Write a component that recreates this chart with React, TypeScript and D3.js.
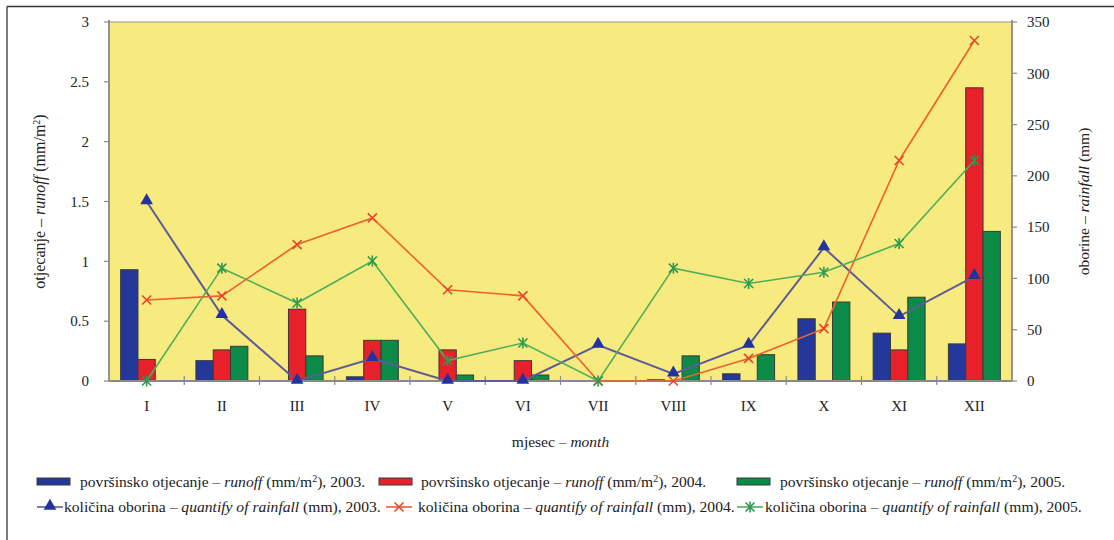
import React from "react";
import * as d3 from "d3";

const months = ["I", "II", "III", "IV", "V", "VI", "VII", "VIII", "IX", "X", "XI", "XII"];
const runoff2003 = [0.93, 0.17, 0, 0.035, 0, 0, 0, 0.01, 0.06, 0.52, 0.4, 0.31];
const runoff2004 = [0.18, 0.26, 0.6, 0.34, 0.26, 0.17, 0, 0, 0, 0, 0.26, 2.45];
const runoff2005 = [0, 0.29, 0.21, 0.34, 0.05, 0.05, 0, 0.21, 0.22, 0.66, 0.7, 1.25];
const rain2003 = [175, 64, 0, 22, 0, 0, 35, 7, 35, 130, 63, 102];
const rain2004 = [79, 83, 133, 159, 89, 83, 0, 0, 22, 51, 215, 332];
const rain2005 = [0, 110, 76, 117, 20, 37, 0, 110, 95, 106, 134, 215];
const leftTicks = [0, 0.5, 1, 1.5, 2, 2.5, 3];
const rightTicks = [0, 50, 100, 150, 200, 250, 300, 350];
const years = ["2003.", "2004.", "2005."];

const BAR_COLORS = ["#24379a", "#e8202a", "#0c8a48"];
const LINE_COLORS = ["#5e5b96", "#f0602e", "#4fae5c"];
const MARK_COLORS = ["#2233a0", "#e8452a", "#2a9a50"];
const FONT = "Liberation Serif, DejaVu Serif, serif";

const L = 109, R = 1012, T = 22, B = 381;

function Marker({ kind, x, y }: { kind: number; x: number; y: number }) {
  if (kind === 0) {
    const d = d3.symbol(d3.symbolTriangle, 70)() as string;
    return <path d={d} transform={`translate(${x},${y - 1})`} fill={MARK_COLORS[0]} />;
  }
  const s = 4.5;
  return (
    <g stroke={MARK_COLORS[kind]} strokeWidth={1.6}>
      <line x1={x - s} y1={y - s} x2={x + s} y2={y + s} />
      <line x1={x - s} y1={y + s} x2={x + s} y2={y - s} />
      {kind === 2 && <line x1={x} y1={y - s - 1} x2={x} y2={y + s + 1} />}
    </g>
  );
}

export default function App() {
  const x = d3.scaleBand<string>().domain(months).range([L, R]).padding(0);
  const bw = x.bandwidth();
  const groupW = bw * 0.69;
  const xs = d3.scaleBand<number>().domain([0, 1, 2]).range([0, groupW]).padding(0);
  const yL = d3.scaleLinear().domain([0, 3]).range([B, T]);
  const yR = d3.scaleLinear().domain([0, 350]).range([B, T]);
  const runoffs = [runoff2003, runoff2004, runoff2005];
  const rains = [rain2003, rain2004, rain2005];
  const cx = (m: string) => (x(m) as number) + bw / 2;

  const legendRow1X = [37, 379, 737];
  const legendRow1Text = [80, 421, 780];
  const legendRow2X = [37, 386, 737];
  const legendRow2Text = [64, 418, 765];
  const LF = 15.6;

  return (
    <svg width={1114} height={540} style={{ position: "absolute", left: 0, top: 0, display: "block", fontFamily: FONT }}>
      <rect x={0} y={0} width={1114} height={540} fill="#ffffff" />
      <line x1={7} y1={6.5} x2={1114} y2={6.5} stroke="#333" strokeWidth={1.3} />
      <line x1={7} y1={6.5} x2={7} y2={540} stroke="#333" strokeWidth={1.3} />

      {/* plot area */}
      <rect x={L} y={T} width={R - L} height={B - T} fill="#f7ea7e" />
      <line x1={L} y1={T} x2={R} y2={T} stroke="#9a9a8a" strokeWidth={1.2} />

      {/* bars */}
      {runoffs.map((arr, si) =>
        arr.map((v, i) => {
          const m = months[i];
          const x0 = cx(m) - groupW / 2 + (xs(si) as number);
          if (v <= 0) return null;
          return (
            <rect key={`b${si}-${i}`} x={x0} y={yL(v)} width={xs.bandwidth()} height={B - yL(v)}
              fill={BAR_COLORS[si]} stroke="#3a3a3a" strokeWidth={1} />
          );
        })
      )}

      {/* axes */}
      <line x1={L} y1={T - 2} x2={L} y2={B} stroke="#8a8a8a" strokeWidth={1.8} />
      <line x1={R} y1={T - 2} x2={R} y2={B} stroke="#8a8a8a" strokeWidth={1.8} />
      <line x1={L} y1={B} x2={R} y2={B} stroke="#8a8a8a" strokeWidth={1.8} />
      {leftTicks.map((t) => (
        <g key={`lt${t}`}>
          <line x1={L - 5} y1={yL(t)} x2={L} y2={yL(t)} stroke="#8a8a8a" strokeWidth={1.2} />
          <text x={89} y={yL(t)} dy="0.35em" textAnchor="end" fontSize={15} fill="#222">{t}</text>
        </g>
      ))}
      {rightTicks.map((t) => (
        <g key={`rt${t}`}>
          <line x1={R} y1={yR(t)} x2={R + 5} y2={yR(t)} stroke="#8a8a8a" strokeWidth={1.2} />
          <text x={1027} y={yR(t)} dy="0.35em" textAnchor="start" fontSize={15} fill="#222">{t}</text>
        </g>
      ))}
      {months.map((m, i) => (
        <g key={`xt${m}`}>
          {i > 0 && <line x1={x(m)} y1={B - 5} x2={x(m)} y2={B + 4} stroke="#8a8a8a" strokeWidth={1.2} />}
          <text x={cx(m)} y={411} textAnchor="middle" fontSize={15} fill="#222">{m}</text>
        </g>
      ))}

      {/* lines */}
      {rains.map((arr, si) => {
        const line = d3.line<number>().x((_, i) => cx(months[i])).y((v) => yR(v));
        return (
          <g key={`l${si}`}>
            <path d={line(arr) as string} fill="none" stroke={LINE_COLORS[si]} strokeWidth={si === 0 ? 2 : 1.6} />
            {arr.map((v, i) => (
              <Marker key={i} kind={si} x={cx(months[i])} y={yR(v)} />
            ))}
          </g>
        );
      })}

      {/* axis titles */}
      <text transform={`translate(45,${(T + B) / 2}) rotate(-90)`} textAnchor="middle" fontSize={16} fill="#222">
        otjecanje – <tspan fontStyle="italic">runoff</tspan> (mm/m<tspan dy={-5} fontSize={10}>2</tspan><tspan dy={5}>)</tspan>
      </text>
      <text transform={`translate(1089,${(T + B) / 2}) rotate(-90)`} textAnchor="middle" fontSize={15.5} fill="#222">
        oborine – <tspan fontStyle="italic">rainfall</tspan> (mm)
      </text>
      <text x={(L + R) / 2} y={447} textAnchor="middle" fontSize={15.5} fill="#222">
        mjesec – <tspan fontStyle="italic">month</tspan>
      </text>

      {/* legend */}
      {years.map((yr, si) => (
        <g key={`lg1${si}`}>
          <rect x={legendRow1X[si]} y={478} width={33} height={7} fill={BAR_COLORS[si]} stroke="#3a3a3a" strokeWidth={1} />
          <text x={legendRow1Text[si]} y={487} fontSize={LF} fill="#222">
            površinsko otjecanje – <tspan fontStyle="italic">runoff</tspan> (mm/m<tspan dy={-5} fontSize={10}>2</tspan><tspan dy={5}>), {yr}</tspan>
          </text>
        </g>
      ))}
      {years.map((yr, si) => (
        <g key={`lg2${si}`}>
          <line x1={legendRow2X[si]} y1={507} x2={legendRow2X[si] + 26} y2={507} stroke={LINE_COLORS[si]} strokeWidth={1.6} />
          <Marker kind={si} x={legendRow2X[si] + 13} y={507} />
          <text x={legendRow2Text[si]} y={512} fontSize={LF} fill="#222">
            količina oborina – <tspan fontStyle="italic">quantify of rainfall</tspan> (mm), {yr}
          </text>
        </g>
      ))}
    </svg>
  );
}
